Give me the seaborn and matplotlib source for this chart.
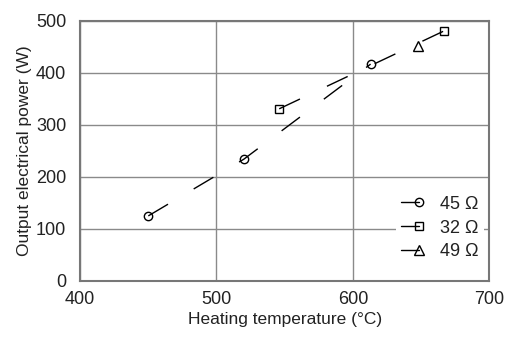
import matplotlib
matplotlib.use("Agg")
import matplotlib.pyplot as plt
import seaborn as sns
from matplotlib.lines import Line2D
from matplotlib.legend_handler import HandlerLine2D

# data
temp_45 = [450, 520, 613]
power_45 = [125, 234, 417]
temp_32 = [546, 667]
power_32 = [331, 481]
temp_49 = [648]
power_49 = [451]
labels = ["45 \u03a9", "32 \u03a9", "49 \u03a9"]

sns.set_style("white")
plt.rcParams["font.family"] = ["Liberation Sans", "DejaVu Sans"]


class RightMarker(HandlerLine2D):
    # short line with the marker sitting on its right end
    def create_artists(self, legend, orig_handle, xdescent, ydescent,
                       width, height, fontsize, trans):
        y = height / 2 - ydescent
        x0, x1 = -xdescent, -xdescent + width
        line = Line2D([x0, x1], [y, y])
        self.update_prop(line, orig_handle, legend)
        line.set_marker("none")
        mk = Line2D([x1], [y])
        self.update_prop(mk, orig_handle, legend)
        mk.set_linestyle("none")
        line.set_transform(trans)
        mk.set_transform(trans)
        return [line, mk]


fig = plt.figure(figsize=(5.07, 3.38), dpi=100)
ax = fig.add_axes([0.158, 0.169, 0.807, 0.769])

dash = (0, (16.5, 21.5))
series = [(temp_45, power_45, "o", 6), (temp_32, power_32, "s", 6), (temp_49, power_49, "^", 6.5)]
for (x, y, m, ms), lab in zip(series, labels):
    sns.lineplot(x=x, y=y, ax=ax, color="black", lw=1.0, linestyle=dash,
                 marker=m, markersize=ms, mfc="none", mec="black", mew=1.0,
                 label=lab, legend=False)

ax.set_xlim(400, 700)
ax.set_ylim(0, 500)
ax.set_xticks([400, 500, 600, 700])
ax.set_yticks([0, 100, 200, 300, 400, 500])
ax.grid(True, color="#8a8a8a", lw=1.0)
ax.set_axisbelow(True)
for s in ax.spines.values():
    s.set_color("#777777")
    s.set_linewidth(1.5)
ax.tick_params(length=0, labelsize=13, colors="#222222")
ax.tick_params(axis="x", pad=7)
ax.tick_params(axis="y", pad=10)
ax.set_xlabel("Heating temperature (\u00b0C)", fontsize=12.5, color="#222222", labelpad=3)
ax.set_ylabel("Output electrical power (W)", fontsize=12.5, color="#222222", labelpad=3)

handles = []
for ln in ax.get_lines():
    h = Line2D([], [], color="black", lw=1.0, marker=ln.get_marker(),
               markersize=ln.get_markersize(), mfc="none", mec="black")
    handles.append(h)
leg = ax.legend(handles, labels, loc="lower right", bbox_to_anchor=(1.0, 0.037),
                handler_map={Line2D: RightMarker()}, handlelength=1.0,
                handletextpad=1.15, labelspacing=0.38, fontsize=13,
                frameon=True, facecolor="white", edgecolor="none", framealpha=1,
                fancybox=False, borderpad=0.3, borderaxespad=0.3)
for t in leg.get_texts():
    t.set_color("#222222")

fig.savefig("out.png", dpi=100)
